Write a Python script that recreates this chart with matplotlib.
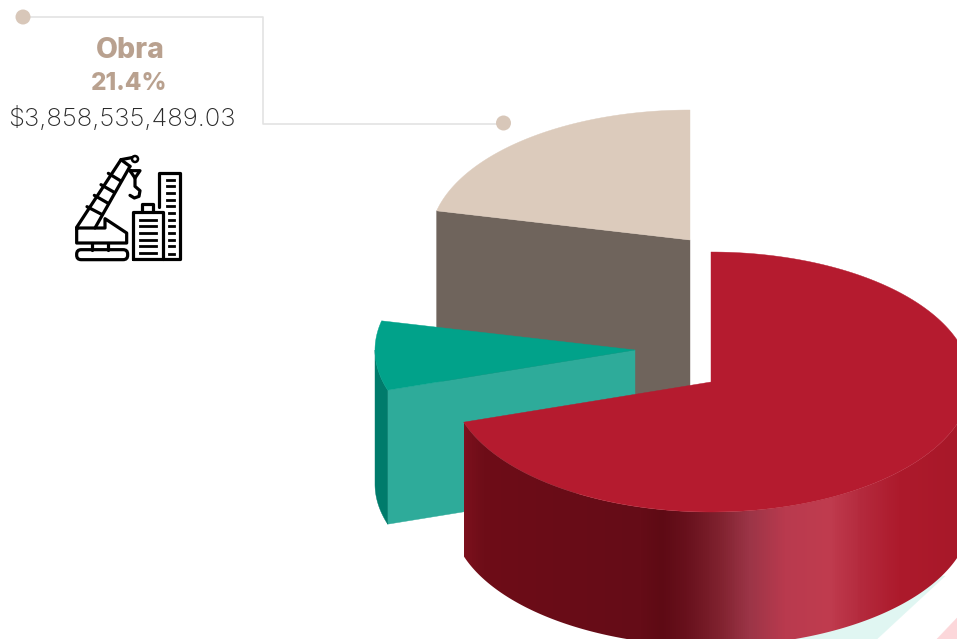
import numpy as np
import matplotlib
matplotlib.use("Agg")
import matplotlib.pyplot as plt
from matplotlib.colors import LinearSegmentedColormap
from matplotlib.patches import Polygon, Circle, FancyBboxPatch

# slices of the pie, going counter clockwise from 12 o'clock
slice_names = ["Obra", "Otros", "Resto"]
slice_shares = [21.4, 8.6, 70.0]
label_name = "Obra"
label_share = "21.4%"
label_amount = "$3,858,535,489.03"

TAUPE = "#b9a18f"
LINE = "#e3e3e3"
DOT = "#d8c7b9"

fig = plt.figure(figsize=(9.57, 6.39), dpi=100)
ax = fig.add_axes([0, 0, 1, 1])
ax.axis("off")


# arc of the tilted pie, angles in degrees counter clockwise from the top
def arc(center, start, end, drop=0):
    t = np.radians(np.linspace(start, end, 200))
    x = center[0] - 260 * np.sin(t)
    y = center[1] - 130 * np.cos(t) + drop
    return np.column_stack([x, y])


def edge(center, angle, drop=0):
    return arc(center, angle, angle, drop)[0]


def fill(points, color, z):
    p = Polygon(points, closed=True, fc=color, ec=color, lw=0.3, zorder=z)
    ax.add_patch(p)
    return p


# angles of the slices come from the shares
angles = np.concatenate([[0], np.cumsum(slice_shares)]) * 3.6
obra_a, obra_b = angles[0], angles[1]
otros_a, otros_b = angles[1], angles[2]
resto_a, resto_b = angles[2], angles[3]

center_obra = (690, 240)
center_otros = (635, 350)
center_resto = (711, 382)
depth = 134

# pale shapes behind the pie
fill([(780, 639), (877, 639), (945, 576), (848, 576)], "#e0f6f2", 1)
fill([(937, 639), (957, 639), (957, 618)], "#fcd7da", 1)

# Obra slice, only its cut face shows and the rest of it is hidden
p = edge(center_obra, obra_b)
fill([p, center_obra, (center_obra[0], center_obra[1] + 170), (p[0], p[1] + 170)], "#6f645c", 2)
fill(np.vstack([[center_obra], arc(center_obra, obra_a, obra_b)]), "#dccbbc", 3)

# small slice
p = edge(center_otros, otros_b)
fill([center_otros, p, edge(center_otros, otros_b, depth), (center_otros[0], center_otros[1] + depth)], "#2eab9a", 4)
fill(np.vstack([arc(center_otros, 90, otros_b), arc(center_otros, otros_b, 90, depth)]), "#007b6b", 5)
fill(np.vstack([[center_otros], arc(center_otros, otros_a, otros_b)]), "#01a28a", 6)

# big slice, the wall has the light on it
wall = np.vstack([arc(center_resto, resto_a, 270), arc(center_resto, 270, resto_a, depth)])
stops = [(464, "#7c101d"), (482, "#6e0d18"), (640, "#650c17"), (662, "#5e0a14"),
         (690, "#6a121e"), (720, "#80222f"), (750, "#9c3547"), (785, "#b93a4e"),
         (830, "#c03c4f"), (862, "#b42a3d"), (900, "#ad1a2c"), (957, "#a81829")]
cmap = LinearSegmentedColormap.from_list(
    "wall", [((x - 464) / (957 - 464), c) for x, c in stops])
im = ax.imshow(np.linspace(0, 1, 493).reshape(1, -1), cmap=cmap, aspect="auto",
               extent=(464, 957, 639, 380), zorder=7)
clip = Polygon(wall, closed=True, transform=ax.transData)
im.set_clip_path(clip)
fill(np.vstack([[center_resto], arc(center_resto, resto_a, resto_b)]), "#b51b2f", 8)

# leader line of the label
ax.plot([23, 263, 263, 503], [17, 17, 124, 124], color=LINE, lw=1.2, zorder=9)
ax.add_patch(Circle((23, 17), 7.5, fc=DOT, ec="none", zorder=10))
ax.add_patch(Circle((503.5, 123), 7.5, fc=DOT, ec="none", zorder=10))

ax.text(130, 50, label_name, ha="center", va="center", color=TAUPE, fontsize=20.5,
        fontweight="heavy", family="Inter")
ax.text(129.5, 84, label_share, ha="center", va="center", color=TAUPE, fontsize=17.5,
        fontweight="heavy", family="Inter")
ax.text(122, 119, label_amount, ha="center", va="center", color="#2a2a2a", fontsize=18.5,
        fontweight="light", family="Inter")


# crane icon, traced in zoomed pixels of the icon box
def ix(v):
    return 65 + v / 3


def iy(v):
    return 148 + v / 3


icon_lines = [
    [(35, 238), (168, 35), (205, 28)],
    [(90, 240), (195, 55)],
    [(168, 35), (195, 55)],
    [(66, 176), (108, 198)],
    [(88, 142), (128, 165)],
    [(108, 110), (146, 132)],
    [(130, 76), (166, 98)],
    [(35, 240), (35, 285), (185, 285), (185, 255), (120, 212), (120, 240), (35, 240)],
    [(80, 285), (80, 305)],
    [(130, 285), (130, 305)],
    [(195, 68), (225, 68), (210, 90), (195, 68)],
    [(210, 90), (210, 115), (225, 128), (222, 145), (208, 150), (195, 142)],
    [(203, 332), (203, 192), (295, 192), (295, 332), (203, 332)],
    [(232, 192), (232, 168), (265, 168), (265, 192)],
    [(283, 178), (283, 75), (345, 75), (345, 332), (295, 332)],
]
for line in icon_lines:
    xs = [ix(a) for a, b in line]
    ys = [iy(b) for a, b in line]
    ax.plot(xs, ys, color="black", lw=2.3, solid_joinstyle="round", solid_capstyle="round", zorder=11)
for y in [215, 235, 255, 275, 295, 315]:
    ax.plot([ix(225), ix(272)], [iy(y), iy(y)], color="black", lw=2.0, zorder=11)
for y in [95, 115, 135, 155, 175]:
    ax.plot([ix(305), ix(328)], [iy(y), iy(y)], color="black", lw=2.0, zorder=11)
for y in [195, 215, 235, 255, 275, 295, 318]:
    ax.plot([ix(311), ix(328)], [iy(y), iy(y)], color="black", lw=2.0, zorder=11)
ax.add_patch(Circle((ix(210), iy(33)), 3, fc="white", ec="black", lw=1.8, zorder=12))
ax.add_patch(FancyBboxPatch((ix(35), iy(305)), 51, 10, boxstyle="round,pad=0,rounding_size=4.5",
                            fc="none", ec="black", lw=2.3, zorder=11))

ax.set_xlim(0, 957)
ax.set_ylim(639, 0)
fig.savefig("out.png", dpi=100)
